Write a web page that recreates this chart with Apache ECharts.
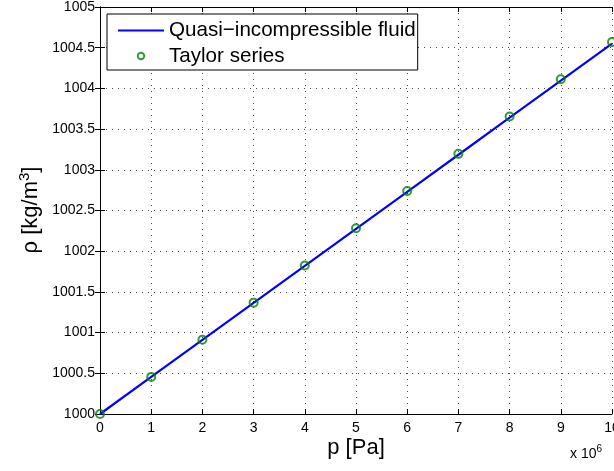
<!DOCTYPE html>
<html><head><meta charset="utf-8">
<script src="https://cdn.jsdelivr.net/npm/echarts@6/dist/echarts.min.js"></script>
<style>html,body{margin:0;padding:0;background:#fff;overflow:hidden}#c{width:614px;height:471px}</style>
</head><body><div id="c"></div>
<script>
// pressure in units of 10^6 Pa
const pValues = [0,1,2,3,4,5,6,7,8,9,10];
const rhoLine = [1000,1000.455,1000.91,1001.365,1001.82,1002.275,1002.73,1003.185,1003.64,1004.095,1004.55];
const rhoTaylor = [1000,1000.456,1000.912,1001.368,1001.825,1002.282,1002.74,1003.196,1003.655,1004.112,1004.57];
const xTicks = ['0','1','2','3','4','5','6','7','8','9','10'];
const seriesNames = ['Quasi\u2212incompressible fluid','Taylor series'];

const chart = echarts.init(document.getElementById('c'));
const font = 'Liberation Sans, Arial, sans-serif';
const common = {
  axisLine:{show:true,lineStyle:{color:'#000',width:1}},
  axisTick:{show:true,inside:true,length:5,lineStyle:{color:'#000'}}
};
const gridLine = {show:true,lineStyle:{color:'#444',type:[1,5],width:1}};
chart.setOption({
  animation:false,
  grid:{left:100,right:2,top:7,bottom:57,containLabel:false,outerBoundsMode:'none'},
  legend:{
    orient:'vertical', left:107, top:14, padding:[6,2,3,10], itemGap:4,
    itemWidth:46, itemHeight:20,
    borderColor:'#000', borderWidth:1, backgroundColor:'#fff', borderRadius:0,
    textStyle:{fontFamily:font,fontSize:20.6,lineHeight:20,color:'#000'},
    data:[
      {name:seriesNames[0],icon:'path://M0,0M46,20M0,9L46,9L46,11L0,11Z'},
      {name:seriesNames[1],icon:'path://M0,0M46,20M26.2,10A3.2,3.2 0 1 1 19.8,10A3.2,3.2 0 1 1 26.2,10Z'}
    ]
  },
  xAxis:[{
    type:'value', min:0, max:10, interval:1, position:'bottom',
    ...common,
    axisLabel:{fontFamily:font,fontSize:14,color:'#000',margin:7,formatter:v=>xTicks[Math.round(v)]},
    splitLine:gridLine
  },{
    type:'value', min:0, max:10, interval:1, position:'top',
    ...common, axisLabel:{show:false}, splitLine:{show:false}
  }],
  yAxis:[{
    type:'value', min:1000, max:1005, interval:0.5, position:'left',
    ...common,
    axisLabel:{fontFamily:font,fontSize:14,color:'#000',margin:5,formatter:v=>String(+v.toFixed(1))},
    splitLine:gridLine
  },{
    type:'value', min:1000, max:1005, interval:0.5, position:'right',
    ...common, axisLabel:{show:false}, splitLine:{show:false}
  }],
  series:[{
    name:seriesNames[0], type:'line', symbol:'none',
    data:pValues.map((p,i)=>[p,rhoLine[i]]),
    lineStyle:{color:'#0000ff',width:2.2}, itemStyle:{color:'#0000ff'}, z:2
  },{
    name:seriesNames[1], type:'scatter', symbol:'circle', symbolSize:8,
    data:pValues.map((p,i)=>[p,rhoTaylor[i]]),
    itemStyle:{color:'rgba(0,0,0,0)',borderColor:'#008000',borderWidth:2}, z:3
  }],
  graphic:[
    {type:'text', x:356, y:448, style:{text:'p [Pa]',font:'22px '+font,fill:'#000',align:'center',verticalAlign:'middle'}},
    {type:'text', x:570, y:454, style:{text:'x 10{s|6}',font:'14px '+font,fill:'#000',align:'left',verticalAlign:'middle',rich:{s:{fontSize:10,fontFamily:font,padding:[0,0,9,0]}}}},
    {type:'text', x:31, y:210, rotation:Math.PI/2, style:{text:'\u03c1 [kg/m{s|3}]',font:'22px '+font,fill:'#000',align:'center',verticalAlign:'middle',rich:{s:{fontSize:15,fontFamily:font,padding:[0,0,12,0]}}}}
  ]
});
</script></body></html>
